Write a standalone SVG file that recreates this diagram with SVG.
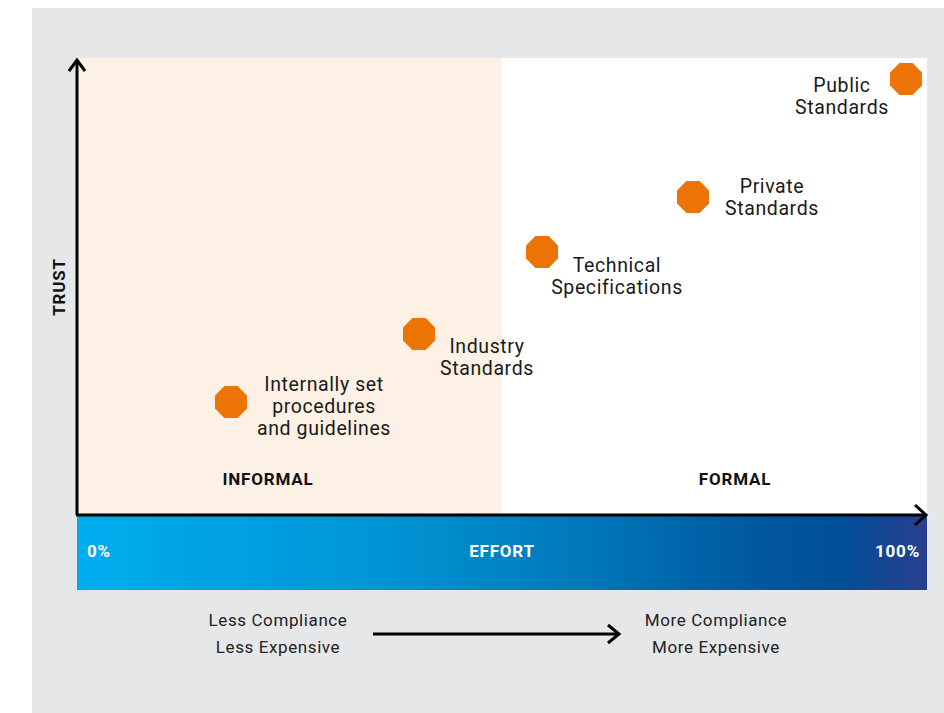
<svg xmlns="http://www.w3.org/2000/svg" width="944" height="713" viewBox="0 0 944 713">
  <defs>
    <linearGradient id="effortGrad" x1="0" y1="0" x2="1" y2="0">
      <stop offset="0" stop-color="#00aeef"/>
      <stop offset="0.35" stop-color="#0095d6"/>
      <stop offset="0.6" stop-color="#0078b9"/>
      <stop offset="0.8" stop-color="#0058a0"/>
      <stop offset="0.9" stop-color="#004f98"/>
      <stop offset="1" stop-color="#2a3f8e"/>
    </linearGradient>
    <polygon id="oct" points="-6.6,-16 6.6,-16 16,-6.6 16,6.6 6.6,16 -6.6,16 -16,6.6 -16,-6.6"/>
  </defs>
  <style>
    .lbl { font-family: Roboto, "Liberation Sans", sans-serif; font-size: 19.5px; letter-spacing: 0.6px; fill: #1a1a1a; text-anchor: middle; }
    .cat { font-family: Roboto, "Liberation Sans", sans-serif; font-size: 17px; letter-spacing: 0.8px; font-weight: bold; fill: #111; text-anchor: middle; }
    .band { font-family: Roboto, "Liberation Sans", sans-serif; font-size: 17px; letter-spacing: 0.8px; font-weight: bold; fill: #ffffff; }
    .note { font-family: Roboto, "Liberation Sans", sans-serif; font-size: 17px; letter-spacing: 0.6px; fill: #222; text-anchor: middle; }
    .dot { fill: #ec7404; }
    .axis { stroke: #000; stroke-width: 3; fill: none; }
    .chev { stroke: #000; stroke-width: 3; fill: none; stroke-linejoin: miter; }
  </style>

  <!-- backdrop -->
  <rect x="0" y="0" width="944" height="713" fill="#ffffff"/>
  <rect x="32" y="8" width="912" height="705" fill="#e6e7e9"/>

  <!-- plot area: informal / formal zones -->
  <rect x="77" y="58" width="425" height="457" fill="#fdf0e5"/>
  <rect x="502" y="58" width="425" height="457" fill="#ffffff"/>

  <!-- effort band -->
  <rect x="77" y="516" width="850" height="74" fill="url(#effortGrad)"/>
  <text class="band" x="87" y="557">0%</text>
  <text class="band" x="502" y="557" text-anchor="middle">EFFORT</text>
  <text class="band" x="920" y="557" text-anchor="end">100%</text>

  <!-- zone captions -->
  <text class="cat" x="268" y="485">INFORMAL</text>
  <text class="cat" x="735" y="485">FORMAL</text>
  <text class="cat" x="0" y="0" transform="translate(65 287) rotate(-90)">TRUST</text>

  <!-- axes and arrows -->
  <g id="connectors">
    <line class="axis" x1="77" y1="60" x2="77" y2="515"/>
    <polyline class="chev" points="69,71 77,60 85,71"/>
    <line class="axis" x1="76" y1="515" x2="925" y2="515"/>
    <polyline class="chev" points="915,505 926,515 915,525"/>
    <line class="axis" x1="373" y1="634" x2="619" y2="634" stroke-width="2.5"/>
    <polyline class="chev" points="608,625 619,634 608,643" stroke-width="2.5"/>
  </g>

  <!-- plotted standards -->
  <g id="internal">
    <use href="#oct" class="dot" x="231" y="402"/>
    <text class="lbl" x="324" y="391">Internally set</text>
    <text class="lbl" x="324" y="413">procedures</text>
    <text class="lbl" x="324" y="435">and guidelines</text>
  </g>
  <g id="industry">
    <use href="#oct" class="dot" x="419" y="334"/>
    <text class="lbl" x="487" y="353">Industry</text>
    <text class="lbl" x="487" y="375">Standards</text>
  </g>
  <g id="technical">
    <use href="#oct" class="dot" x="542" y="252"/>
    <text class="lbl" x="617" y="272">Technical</text>
    <text class="lbl" x="617" y="294">Specifications</text>
  </g>
  <g id="private">
    <use href="#oct" class="dot" x="693" y="197"/>
    <text class="lbl" x="772" y="193">Private</text>
    <text class="lbl" x="772" y="215">Standards</text>
  </g>
  <g id="public">
    <use href="#oct" class="dot" x="906" y="79"/>
    <text class="lbl" x="842" y="92">Public</text>
    <text class="lbl" x="842" y="114">Standards</text>
  </g>

  <!-- cost / compliance note -->
  <g id="note-left">
    <text class="note" x="278" y="626">Less Compliance</text>
    <text class="note" x="278" y="653">Less Expensive</text>
  </g>
  <g id="note-right">
    <text class="note" x="716" y="626">More Compliance</text>
    <text class="note" x="716" y="653">More Expensive</text>
  </g>
</svg>
